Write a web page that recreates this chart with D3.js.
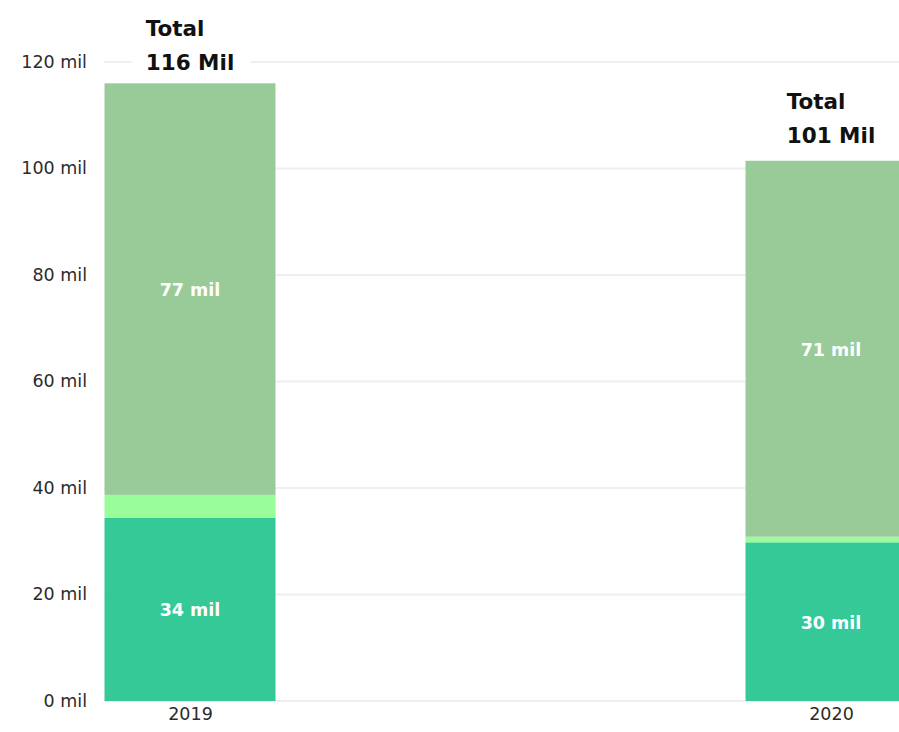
<!DOCTYPE html>
<html>
<head>
<meta charset="utf-8">
<script src="https://cdn.jsdelivr.net/npm/d3@7"></script>
<style>
  html, body { margin: 0; padding: 0; background: #fff; overflow: hidden; }
  svg { display: block; }
</style>
</head>
<body>
<svg id="chart" width="899" height="732"></svg>
<script>
// values (millions)
var years = ["2019", "2020"];
var lowerValues = [34.4, 29.8];
var middleValues = [4.3, 1.05];
var upperValues = [77.3, 70.6];
var seriesColors = ["#35c997", "#99fd99", "#99cb99"];
var yTicks = [0, 20, 40, 60, 80, 100, 120];

var svg = d3.select("#chart"),
    width = +svg.attr("width"),
    height = +svg.attr("height");

var barWidth = 171;
var font = "'DejaVu Sans', sans-serif";

var x = d3.scalePoint()
    .domain(years)
    .range([190, 831]);

var y = d3.scaleLinear()
    .domain([0, 120])
    .range([701, 62]);

var stackData = years.map(function(yr, i) {
    return {year: yr, lower: lowerValues[i], middle: middleValues[i], upper: upperValues[i]};
});

var stack = d3.stack().keys(["lower", "middle", "upper"]);
var series = stack(stackData);

// gridlines
svg.append("g")
    .attr("class", "grid")
    .selectAll("line")
    .data(yTicks)
    .enter().append("line")
    .attr("x1", 104)
    .attr("x2", width)
    .attr("y1", function(d) { return y(d); })
    .attr("y2", function(d) { return y(d); })
    .attr("stroke", "#efefef")
    .attr("stroke-width", 2);

// y axis labels
var yAxis = d3.axisLeft(y)
    .tickValues(yTicks)
    .tickSize(0)
    .tickPadding(0)
    .tickFormat(function(d) { return d + " mil"; });

var yg = svg.append("g")
    .attr("transform", "translate(87,0)")
    .call(yAxis);
yg.select(".domain").remove();
yg.selectAll("text")
    .attr("font-family", font)
    .attr("font-size", 17.5)
    .attr("fill", "#2b2b2b")
    .attr("dy", "0.3em");

// x axis labels
var xAxis = d3.axisBottom(x).tickSize(0).tickPadding(0);
var xg = svg.append("g")
    .attr("transform", "translate(0,708)")
    .call(xAxis);
xg.select(".domain").remove();
xg.selectAll("text")
    .attr("font-family", font)
    .attr("font-size", 17.5)
    .attr("fill", "#2b2b2b")
    .attr("dy", "0.71em");

// stacked bars
var layer = svg.selectAll(".layer")
    .data(series)
    .enter().append("g")
    .attr("class", "layer")
    .attr("fill", function(d, i) { return seriesColors[i]; });

layer.selectAll("rect")
    .data(function(d) { return d; })
    .enter().append("rect")
    .attr("x", function(d) { return x(d.data.year) - barWidth / 2; })
    .attr("width", barWidth)
    .attr("y", function(d) { return y(d[1]); })
    .attr("height", function(d) { return y(d[0]) - y(d[1]); });

// data labels (skip the thin middle segment)
series.forEach(function(s, i) {
    if (i === 1) return;
    svg.append("g").selectAll("text")
        .data(s)
        .enter().append("text")
        .attr("x", function(d) { return x(d.data.year); })
        .attr("y", function(d) { return y((d[0] + d[1]) / 2); })
        .attr("dy", "0.4em")
        .attr("text-anchor", "middle")
        .attr("font-family", font)
        .attr("font-weight", "bold")
        .attr("font-size", 17.5)
        .attr("fill", "#fff")
        .text(function(d) { return Math.round(d[1] - d[0]) + " mil"; });
});

// total labels
stackData.forEach(function(d) {
    var total = d.lower + d.middle + d.upper;
    var baseY = Math.max(y(total) - 18, 70);
    var g = svg.append("g");
    var bg = g.append("rect").attr("fill", "#fff");
    var t = g.append("text")
        .attr("font-family", font)
        .attr("font-weight", "bold")
        .attr("font-size", 21.5)
        .attr("fill", "#111");
    t.append("tspan").attr("x", 0).attr("y", baseY - 34).text("Total");
    t.append("tspan").attr("x", 0).attr("y", baseY).text(Math.round(total) + " Mil");
    var w = t.node().getBBox().width;
    var left = x(d.year) - w / 2;
    t.selectAll("tspan").attr("x", left);
    bg.attr("x", left - 14).attr("y", baseY - 24)
        .attr("width", w + 30).attr("height", 28);
});
</script>
</body>
</html>
